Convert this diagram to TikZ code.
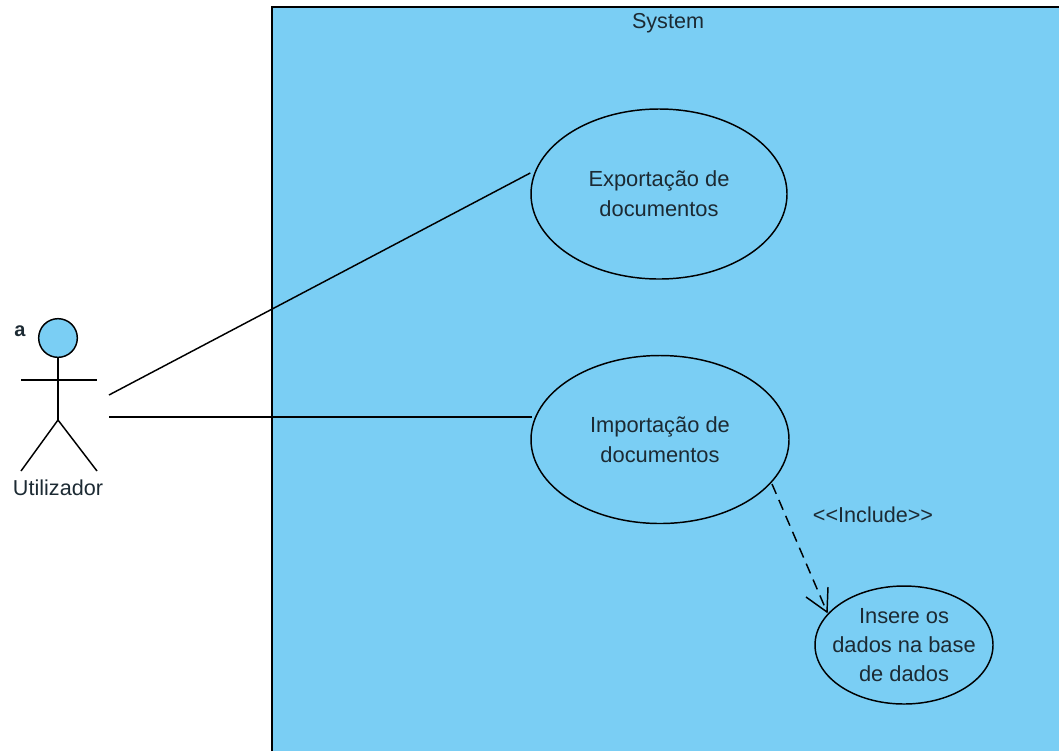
\documentclass[tikz,border=0pt]{standalone}
\usepackage{fontspec}
\setmainfont{Liberation Sans}
\usetikzlibrary{shapes.geometric,arrows.meta}
\definecolor{sysblue}{HTML}{7ACEF4}
\definecolor{inktext}{HTML}{1C2A33}
\tikzset{
  x=0.75pt,y=-0.75pt,
  usecase/.style={draw=black,ellipse,fill=sysblue,line width=1.1pt,inner sep=-14pt,align=center,text=inktext,font=\fontsize{16.4}{22.5}\selectfont},
  assoc/.style={draw=black,line width=1.1pt},
  lbl/.style={font=\fontsize{16.2}{18}\selectfont,inner sep=0pt,text=inktext}
}
\begin{document}
\begin{tikzpicture}
\useasboundingbox (0,0) rectangle (1059,751);
\fill[sysblue] (272,7) rectangle (1059,751);
\draw[line width=1.1pt] (272,751) -- (272,7) -- (1059,7);
\node[lbl] (sys) at (668,23) {System};
\node[usecase,minimum width=192pt,minimum height=127.5pt] (exp) at (659,194) {Exportação de\\documentos};
\node[usecase,minimum width=193.5pt,minimum height=126pt] (imp) at (660,439.5) {Importação de\\documentos};
\node[usecase,minimum width=133.5pt,minimum height=88.5pt,font=\fontsize{16.4}{22}\selectfont] (ins) at (904,645) {Insere os\\dados na base\\de dados};
\coordinate (a1) at (109,395);
\coordinate (a2) at (109,417);
\draw[assoc] (a1) -- (exp.west |- 0,173);
\draw[assoc] (a2) -- (532,417);
\coordinate (incS) at (772,484);
\coordinate (incE) at (827,612);
\draw[assoc,dash pattern=on 8pt off 5pt] (incS) -- (incE);
\draw[assoc] (806,597) -- (incE) -- (828,587);
\node[lbl] (inc) at (873,515) {{<}{<}Include{>}{>}};
\node[draw=black,circle,fill=sysblue,line width=1.1pt,minimum size=29pt,inner sep=0pt] (head) at (58,338) {};
\coordinate (hip) at (58,420);
\coordinate (armL) at (21,380);
\coordinate (armR) at (97,380);
\coordinate (footL) at (21,471);
\coordinate (footR) at (97,471);
\draw[assoc] (head) -- (hip);
\draw[assoc] (armL) -- (armR);
\draw[assoc] (footL) -- (hip) -- (footR);
\node[lbl] (ut) at (58,488) {Utilizador};
\node[font=\bfseries\fontsize{15}{17}\selectfont,inner sep=0pt,text=inktext] (aa) at (20,331) {a};
\end{tikzpicture}
\end{document}
